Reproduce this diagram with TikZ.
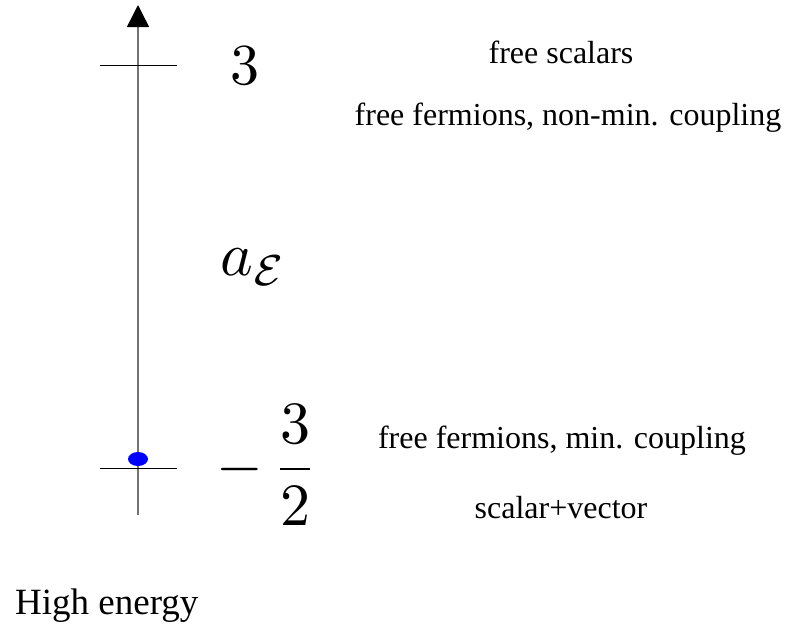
\documentclass[tikz,border=0pt]{standalone}
\usepackage{fontspec}
\setmainfont{Liberation Serif}
\usetikzlibrary{arrows.meta,shapes.geometric}
\begin{document}
\begin{tikzpicture}[x=1pt,y=-1pt,
  lbl/.style={font=\fontsize{32}{36}\selectfont, inner sep=0pt},
  big/.style={font=\normalsize, inner sep=0pt},
  tick/.style={line width=1pt, black}]
\useasboundingbox (0,0) rectangle (810,633);
\coordinate (bot) at (138,515);
\coordinate (top) at (138,5);
\draw[line width=1.5pt, gray!90!black, -{Triangle[length=22pt,width=22pt,color=black]}] (bot) -- (top);
\coordinate (t1a) at (100,65); \coordinate (t1b) at (177,65);
\coordinate (t2a) at (100,468); \coordinate (t2b) at (177,468);
\draw[tick] (t1a) -- (t1b);
\draw[tick] (t2a) -- (t2b);
\node[fill=blue, ellipse, minimum width=20pt, minimum height=14pt, inner sep=0pt] (dot) at (138,459) {};
\node[big] (three) at (245,66) {\scalebox{5.8}{$3$}};
\node[big] (ae) at (254,267) {\scalebox{6.2}{$a_{\mathcal{E}}$}};
\node[big] (frac) at (267,465) {\scalebox{6}{$-\,\displaystyle\frac{3}{2}$}};
\node[lbl] (fs) at (561,52) {free scalars};
\node[lbl] (ff) at (568,118) {free fermions, non-min. coupling};
\node[lbl] (fm) at (562,441) {free fermions, min. coupling};
\node[lbl] (sv) at (561,508) {scalar+vector};
\node[lbl, font=\fontsize{37}{40}\selectfont, anchor=west] (he) at (15,606) {High energy};
\end{tikzpicture}
\end{document}
